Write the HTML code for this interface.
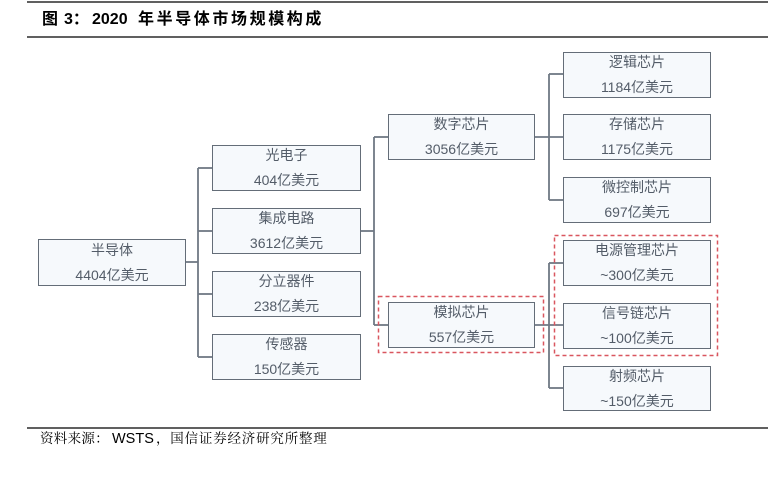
<!DOCTYPE html>
<html><head><meta charset="utf-8">
<style>
html,body{margin:0;padding:0;background:#fff;}
body{width:768px;height:482px;position:relative;overflow:hidden;font-family:"Liberation Sans","Noto Sans CJK SC",sans-serif;}
.t{position:absolute;white-space:nowrap;}
.box{position:absolute;box-sizing:border-box;border:1.5px solid #646d78;background:#f6f9fc;color:#535c68;font-size:14px;line-height:25px;display:flex;flex-direction:column;align-items:center;justify-content:center;text-align:center;}
.box div{white-space:nowrap;}
svg{position:absolute;left:0;top:0;}
</style></head><body>
<svg width="768" height="482">
 <line x1="27" y1="2" x2="768" y2="2" stroke="#000" stroke-width="1.2"/>
 <line x1="27" y1="37" x2="768" y2="37" stroke="#000" stroke-width="1.2"/>
 <line x1="27" y1="428" x2="768" y2="428" stroke="#000" stroke-width="1.2"/>
 <g stroke="#6f7884" stroke-width="1.8" fill="none">
  <line x1="185" y1="262" x2="198" y2="262"/>
  <line x1="198" y1="168" x2="198" y2="357"/>
  <line x1="198" y1="168" x2="212" y2="168"/>
  <line x1="198" y1="231" x2="212" y2="231"/>
  <line x1="198" y1="294" x2="212" y2="294"/>
  <line x1="198" y1="357" x2="212" y2="357"/>
  <line x1="360" y1="231" x2="374" y2="231"/>
  <line x1="374" y1="137" x2="374" y2="325"/>
  <line x1="374" y1="137" x2="388" y2="137"/>
  <line x1="374" y1="325" x2="388" y2="325"/>
  <line x1="534" y1="137" x2="563" y2="137"/>
  <line x1="549" y1="74" x2="549" y2="200"/>
  <line x1="549" y1="74" x2="563" y2="74"/>
  <line x1="549" y1="200" x2="563" y2="200"/>
  <line x1="535" y1="325" x2="563" y2="325"/>
  <line x1="549" y1="263" x2="549" y2="388"/>
  <line x1="549" y1="263" x2="563" y2="263"/>
  <line x1="549" y1="388" x2="563" y2="388"/>
 </g>
 <g stroke="#d9565f" stroke-width="1.5" fill="none" stroke-dasharray="4 3">
  <rect x="378.5" y="296.5" width="165" height="56"/>
  <rect x="554.5" y="235.5" width="163" height="120"/>
 </g>
</svg>

<div class="t" style="left:42px;top:9px;font-size:16px;font-weight:bold;line-height:22px;color:#000;">图</div>
<div class="t" style="left:64px;top:9px;font-size:16px;font-weight:bold;line-height:22px;color:#000;">3：</div>
<div class="t" style="left:92px;top:9px;font-size:16px;font-weight:bold;line-height:22px;color:#000;">2020</div>
<div class="t" style="left:138px;top:9px;font-size:16px;font-weight:bold;line-height:22px;color:#000;letter-spacing:2.6px;">年半导体市场规模构成</div>

<div class="t" style="left:40px;top:430px;font-size:13.5px;line-height:18px;color:#000;font-family:'Liberation Serif','Noto Serif CJK SC',serif;letter-spacing:0.3px;">资料来源：</div>
<div class="t" style="left:112px;top:430px;font-size:14.5px;line-height:18px;color:#000;">WSTS</div>
<div class="t" style="left:156px;top:430px;font-size:13.5px;line-height:18px;color:#000;font-family:'Liberation Serif','Noto Serif CJK SC',serif;letter-spacing:0.8px;">，国信证券经济研究所整理</div>

<div class="box" style="left:38px;top:239px;width:148px;height:47px;"><div>半导体</div><div>4404亿美元</div></div>
<div class="box" style="left:212px;top:145px;width:149px;height:46px;"><div>光电子</div><div>404亿美元</div></div>
<div class="box" style="left:212px;top:208px;width:149px;height:46px;"><div>集成电路</div><div>3612亿美元</div></div>
<div class="box" style="left:212px;top:271px;width:149px;height:46px;"><div>分立器件</div><div>238亿美元</div></div>
<div class="box" style="left:212px;top:334px;width:149px;height:46px;"><div>传感器</div><div>150亿美元</div></div>
<div class="box" style="left:388px;top:114px;width:147px;height:46px;"><div>数字芯片</div><div>3056亿美元</div></div>
<div class="box" style="left:388px;top:302px;width:147px;height:46px;"><div>模拟芯片</div><div>557亿美元</div></div>
<div class="box" style="left:563px;top:52px;width:148px;height:46px;"><div>逻辑芯片</div><div>1184亿美元</div></div>
<div class="box" style="left:563px;top:114px;width:148px;height:46px;"><div>存储芯片</div><div>1175亿美元</div></div>
<div class="box" style="left:563px;top:177px;width:148px;height:46px;"><div>微控制芯片</div><div>697亿美元</div></div>
<div class="box" style="left:563px;top:240px;width:148px;height:46px;"><div>电源管理芯片</div><div>~300亿美元</div></div>
<div class="box" style="left:563px;top:303px;width:148px;height:46px;"><div>信号链芯片</div><div>~100亿美元</div></div>
<div class="box" style="left:563px;top:366px;width:148px;height:45px;"><div>射频芯片</div><div>~150亿美元</div></div>
</body></html>
